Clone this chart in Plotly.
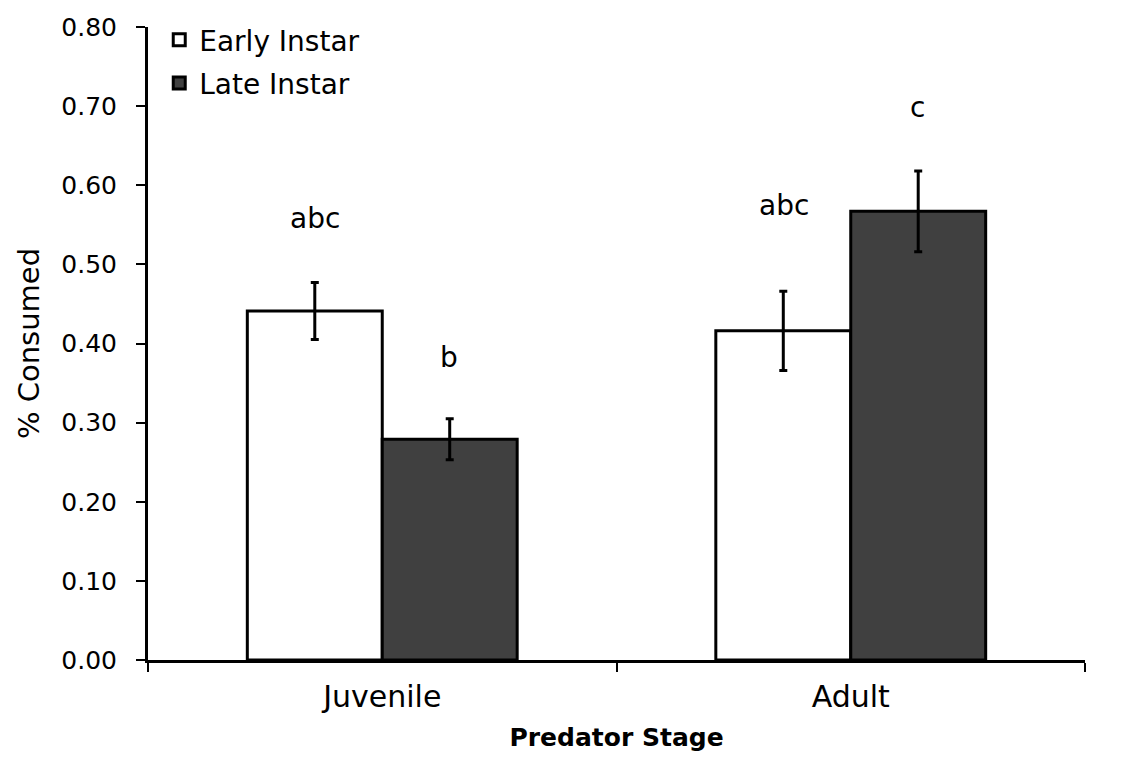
import plotly.graph_objects as go

categories = ["Juvenile", "Adult"]
early_values = [0.441, 0.416]
early_err = [0.036, 0.050]
late_values = [0.279, 0.567]
late_err = [0.026, 0.051]
early_letters = ["abc", "abc"]
early_letter_y = [0.558, 0.575]
late_letters = ["b", "c"]
late_letter_y = [0.382, 0.698]
y_ticks = [0.0, 0.1, 0.2, 0.3, 0.4, 0.5, 0.6, 0.7, 0.8]

FONT = "DejaVu Sans"

fig = go.Figure()
fig.add_trace(go.Bar(
    name="Early Instar", x=categories, y=early_values, legendgroup="e",
    marker=dict(color="white", line=dict(color="black", width=3)),
    error_y=dict(type="data", array=early_err, color="black", thickness=3, width=4),
))
fig.add_trace(go.Bar(
    name="Late Instar", x=categories, y=late_values, legendgroup="l",
    marker=dict(color="#404040", line=dict(color="black", width=3)),
    error_y=dict(type="data", array=late_err, color="black", thickness=3, width=4),
))

annotations = []
for cat, txt, yv in zip(categories, early_letters, early_letter_y):
    annotations.append(dict(x=cat, y=yv, text=txt, xref="x", yref="y", showarrow=False,
                            xshift=-67, font=dict(family=FONT, size=28, color="black")))
for cat, txt, yv in zip(categories, late_letters, late_letter_y):
    annotations.append(dict(x=cat, y=yv, text=txt, xref="x", yref="y", showarrow=False,
                            xshift=67, font=dict(family=FONT, size=28, color="black")))

fig.update_layout(
    width=1130, height=768,
    margin=dict(l=140, r=53, t=19, b=116, pad=0, autoexpand=False),
    paper_bgcolor="white", plot_bgcolor="white",
    barmode="group", bargap=0.424, bargroupgap=0,
    font=dict(family=FONT, color="black"),
    showlegend=True,
    legend=dict(x=0.012, y=1.019, xanchor="left", yanchor="top",
                font=dict(family=FONT, size=28, color="black"),
                bgcolor="rgba(0,0,0,0)", tracegroupgap=4, itemwidth=30),
    annotations=annotations,
)
fig.update_xaxes(
    showline=True, linecolor="black", linewidth=3,
    ticks="outside", tickson="boundaries", ticklen=9, tickwidth=2, tickcolor="black",
    ticklabelstandoff=8,
    tickfont=dict(family=FONT, size=30, color="black"),
    title=dict(text="<b>Predator Stage</b>", font=dict(family=FONT, size=25, color="black"), standoff=16),
    showgrid=False, zeroline=False,
)
fig.update_yaxes(
    range=[0, 0.8], tickvals=y_ticks, tickformat=".2f",
    showline=True, linecolor="black", linewidth=3,
    ticks="outside", ticklen=9, tickwidth=2, tickcolor="black",
    ticklabelstandoff=14,
    tickfont=dict(family=FONT, size=25, color="black"),
    title=dict(text="% Consumed", font=dict(family=FONT, size=29, color="black"), standoff=14),
    showgrid=False, zeroline=False,
)

fig.write_html("out.html")
